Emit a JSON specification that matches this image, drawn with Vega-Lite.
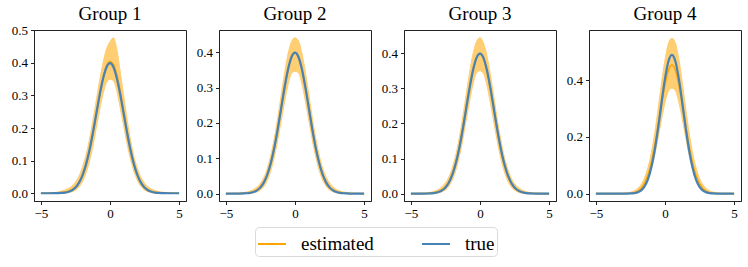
{
  "$schema": "https://vega.github.io/schema/vega-lite/v6.json",
  "padding": {"left": 10, "top": 4, "right": 8, "bottom": 2},
  "spacing": 8,
  "background": "white",
  "datasets": {
    "g1": [
      {"x": -5, "t": 0, "e": 0, "lo": 0, "hi": 0.0002},
      {"x": -4.75, "t": 0, "e": 0.0001, "lo": 0, "hi": 0.0004},
      {"x": -4.5, "t": 0, "e": 0.0002, "lo": 0, "hi": 0.0008},
      {"x": -4.25, "t": 0, "e": 0.0004, "lo": 0, "hi": 0.0014},
      {"x": -4, "t": 0.0001, "e": 0.0007, "lo": 0, "hi": 0.0024},
      {"x": -3.75, "t": 0.0004, "e": 0.0012, "lo": 0.0001, "hi": 0.004},
      {"x": -3.5, "t": 0.0009, "e": 0.002, "lo": 0.0003, "hi": 0.0065},
      {"x": -3.25, "t": 0.002, "e": 0.0035, "lo": 0.0008, "hi": 0.01},
      {"x": -3, "t": 0.0044, "e": 0.0062, "lo": 0.002, "hi": 0.015},
      {"x": -2.75, "t": 0.0091, "e": 0.0105, "lo": 0.0045, "hi": 0.0225},
      {"x": -2.5, "t": 0.0175, "e": 0.0185, "lo": 0.0095, "hi": 0.034},
      {"x": -2.25, "t": 0.0317, "e": 0.032, "lo": 0.019, "hi": 0.052},
      {"x": -2, "t": 0.054, "e": 0.053, "lo": 0.035, "hi": 0.079},
      {"x": -1.75, "t": 0.0863, "e": 0.084, "lo": 0.06, "hi": 0.115},
      {"x": -1.5, "t": 0.1295, "e": 0.126, "lo": 0.096, "hi": 0.162},
      {"x": -1.25, "t": 0.1826, "e": 0.179, "lo": 0.142, "hi": 0.22},
      {"x": -1, "t": 0.242, "e": 0.239, "lo": 0.198, "hi": 0.283},
      {"x": -0.75, "t": 0.3011, "e": 0.3, "lo": 0.256, "hi": 0.346},
      {"x": -0.5, "t": 0.3521, "e": 0.353, "lo": 0.305, "hi": 0.401},
      {"x": -0.25, "t": 0.3867, "e": 0.39, "lo": 0.34, "hi": 0.443},
      {"x": 0, "t": 0.3989, "e": 0.404, "lo": 0.35, "hi": 0.465},
      {"x": 0.25, "t": 0.3867, "e": 0.395, "lo": 0.345, "hi": 0.477},
      {"x": 0.5, "t": 0.3521, "e": 0.362, "lo": 0.313, "hi": 0.44},
      {"x": 0.75, "t": 0.3011, "e": 0.309, "lo": 0.26, "hi": 0.37},
      {"x": 1, "t": 0.242, "e": 0.248, "lo": 0.204, "hi": 0.296},
      {"x": 1.25, "t": 0.1826, "e": 0.186, "lo": 0.149, "hi": 0.223},
      {"x": 1.5, "t": 0.1295, "e": 0.131, "lo": 0.102, "hi": 0.16},
      {"x": 1.75, "t": 0.0863, "e": 0.0865, "lo": 0.065, "hi": 0.11},
      {"x": 2, "t": 0.054, "e": 0.0535, "lo": 0.038, "hi": 0.074},
      {"x": 2.25, "t": 0.0317, "e": 0.0315, "lo": 0.0205, "hi": 0.048},
      {"x": 2.5, "t": 0.0175, "e": 0.0178, "lo": 0.01, "hi": 0.031},
      {"x": 2.75, "t": 0.0091, "e": 0.0098, "lo": 0.0046, "hi": 0.02},
      {"x": 3, "t": 0.0044, "e": 0.0055, "lo": 0.002, "hi": 0.013},
      {"x": 3.25, "t": 0.002, "e": 0.0031, "lo": 0.0008, "hi": 0.0085},
      {"x": 3.5, "t": 0.0009, "e": 0.0017, "lo": 0.0003, "hi": 0.0055},
      {"x": 3.75, "t": 0.0004, "e": 0.0009, "lo": 0.0001, "hi": 0.0035},
      {"x": 4, "t": 0.0001, "e": 0.0005, "lo": 0, "hi": 0.0022},
      {"x": 4.25, "t": 0, "e": 0.0003, "lo": 0, "hi": 0.0013},
      {"x": 4.5, "t": 0, "e": 0.0001, "lo": 0, "hi": 0.0007},
      {"x": 4.75, "t": 0, "e": 0.0001, "lo": 0, "hi": 0.0004},
      {"x": 5, "t": 0, "e": 0, "lo": 0, "hi": 0.0002}
    ],
    "g2": [
      {"x": -5, "t": 0, "e": 0, "lo": 0, "hi": 0.0002},
      {"x": -4.75, "t": 0, "e": 0.0001, "lo": 0, "hi": 0.0003},
      {"x": -4.5, "t": 0, "e": 0.0001, "lo": 0, "hi": 0.0005},
      {"x": -4.25, "t": 0, "e": 0.0002, "lo": 0, "hi": 0.0009},
      {"x": -4, "t": 0.0001, "e": 0.0004, "lo": 0, "hi": 0.0015},
      {"x": -3.75, "t": 0.0004, "e": 0.0007, "lo": 0.0001, "hi": 0.0025},
      {"x": -3.5, "t": 0.0009, "e": 0.0013, "lo": 0.0003, "hi": 0.0042},
      {"x": -3.25, "t": 0.002, "e": 0.0026, "lo": 0.0008, "hi": 0.007},
      {"x": -3, "t": 0.0044, "e": 0.0052, "lo": 0.002, "hi": 0.0115},
      {"x": -2.75, "t": 0.0091, "e": 0.0098, "lo": 0.0048, "hi": 0.0185},
      {"x": -2.5, "t": 0.0175, "e": 0.018, "lo": 0.01, "hi": 0.0295},
      {"x": -2.25, "t": 0.0317, "e": 0.032, "lo": 0.02, "hi": 0.046},
      {"x": -2, "t": 0.054, "e": 0.054, "lo": 0.038, "hi": 0.072},
      {"x": -1.75, "t": 0.0863, "e": 0.086, "lo": 0.065, "hi": 0.108},
      {"x": -1.5, "t": 0.1295, "e": 0.129, "lo": 0.103, "hi": 0.156},
      {"x": -1.25, "t": 0.1826, "e": 0.182, "lo": 0.151, "hi": 0.214},
      {"x": -1, "t": 0.242, "e": 0.242, "lo": 0.206, "hi": 0.279},
      {"x": -0.75, "t": 0.3011, "e": 0.301, "lo": 0.261, "hi": 0.342},
      {"x": -0.5, "t": 0.3521, "e": 0.352, "lo": 0.309, "hi": 0.396},
      {"x": -0.25, "t": 0.3867, "e": 0.386, "lo": 0.34, "hi": 0.43},
      {"x": 0, "t": 0.3989, "e": 0.398, "lo": 0.346, "hi": 0.441},
      {"x": 0.25, "t": 0.3867, "e": 0.387, "lo": 0.342, "hi": 0.432},
      {"x": 0.5, "t": 0.3521, "e": 0.353, "lo": 0.311, "hi": 0.397},
      {"x": 0.75, "t": 0.3011, "e": 0.302, "lo": 0.262, "hi": 0.343},
      {"x": 1, "t": 0.242, "e": 0.243, "lo": 0.207, "hi": 0.28},
      {"x": 1.25, "t": 0.1826, "e": 0.183, "lo": 0.152, "hi": 0.215},
      {"x": 1.5, "t": 0.1295, "e": 0.13, "lo": 0.104, "hi": 0.157},
      {"x": 1.75, "t": 0.0863, "e": 0.087, "lo": 0.066, "hi": 0.109},
      {"x": 2, "t": 0.054, "e": 0.055, "lo": 0.0385, "hi": 0.073},
      {"x": 2.25, "t": 0.0317, "e": 0.0325, "lo": 0.0205, "hi": 0.047},
      {"x": 2.5, "t": 0.0175, "e": 0.0182, "lo": 0.0102, "hi": 0.03},
      {"x": 2.75, "t": 0.0091, "e": 0.0099, "lo": 0.0049, "hi": 0.019},
      {"x": 3, "t": 0.0044, "e": 0.0053, "lo": 0.0021, "hi": 0.0118},
      {"x": 3.25, "t": 0.002, "e": 0.0027, "lo": 0.0008, "hi": 0.0072},
      {"x": 3.5, "t": 0.0009, "e": 0.0013, "lo": 0.0003, "hi": 0.0043},
      {"x": 3.75, "t": 0.0004, "e": 0.0007, "lo": 0.0001, "hi": 0.0026},
      {"x": 4, "t": 0.0001, "e": 0.0004, "lo": 0, "hi": 0.0015},
      {"x": 4.25, "t": 0, "e": 0.0002, "lo": 0, "hi": 0.0009},
      {"x": 4.5, "t": 0, "e": 0.0001, "lo": 0, "hi": 0.0005},
      {"x": 4.75, "t": 0, "e": 0.0001, "lo": 0, "hi": 0.0003},
      {"x": 5, "t": 0, "e": 0, "lo": 0, "hi": 0.0002}
    ],
    "g3": [
      {"x": -5, "t": 0, "e": 0, "lo": 0, "hi": 0.0002},
      {"x": -4.75, "t": 0, "e": 0.0001, "lo": 0, "hi": 0.0003},
      {"x": -4.5, "t": 0, "e": 0.0001, "lo": 0, "hi": 0.0005},
      {"x": -4.25, "t": 0, "e": 0.0002, "lo": 0, "hi": 0.0009},
      {"x": -4, "t": 0.0001, "e": 0.0004, "lo": 0, "hi": 0.0016},
      {"x": -3.75, "t": 0.0004, "e": 0.0008, "lo": 0.0001, "hi": 0.0027},
      {"x": -3.5, "t": 0.0009, "e": 0.0015, "lo": 0.0003, "hi": 0.0045},
      {"x": -3.25, "t": 0.002, "e": 0.0029, "lo": 0.0009, "hi": 0.0075},
      {"x": -3, "t": 0.0044, "e": 0.0056, "lo": 0.0022, "hi": 0.0122},
      {"x": -2.75, "t": 0.0091, "e": 0.0103, "lo": 0.0051, "hi": 0.0195},
      {"x": -2.5, "t": 0.0175, "e": 0.0187, "lo": 0.0105, "hi": 0.0305},
      {"x": -2.25, "t": 0.0317, "e": 0.033, "lo": 0.0208, "hi": 0.0475},
      {"x": -2, "t": 0.054, "e": 0.0555, "lo": 0.0392, "hi": 0.074},
      {"x": -1.75, "t": 0.0863, "e": 0.088, "lo": 0.0665, "hi": 0.11},
      {"x": -1.5, "t": 0.1295, "e": 0.1315, "lo": 0.105, "hi": 0.1585},
      {"x": -1.25, "t": 0.1826, "e": 0.185, "lo": 0.153, "hi": 0.217},
      {"x": -1, "t": 0.242, "e": 0.245, "lo": 0.209, "hi": 0.282},
      {"x": -0.75, "t": 0.3011, "e": 0.304, "lo": 0.264, "hi": 0.345},
      {"x": -0.5, "t": 0.3521, "e": 0.355, "lo": 0.312, "hi": 0.399},
      {"x": -0.25, "t": 0.3867, "e": 0.388, "lo": 0.344, "hi": 0.433},
      {"x": 0, "t": 0.3989, "e": 0.399, "lo": 0.35, "hi": 0.444},
      {"x": 0.25, "t": 0.3867, "e": 0.385, "lo": 0.342, "hi": 0.429},
      {"x": 0.5, "t": 0.3521, "e": 0.35, "lo": 0.308, "hi": 0.393},
      {"x": 0.75, "t": 0.3011, "e": 0.299, "lo": 0.259, "hi": 0.339},
      {"x": 1, "t": 0.242, "e": 0.24, "lo": 0.204, "hi": 0.276},
      {"x": 1.25, "t": 0.1826, "e": 0.18, "lo": 0.149, "hi": 0.211},
      {"x": 1.5, "t": 0.1295, "e": 0.1275, "lo": 0.101, "hi": 0.154},
      {"x": 1.75, "t": 0.0863, "e": 0.085, "lo": 0.064, "hi": 0.106},
      {"x": 2, "t": 0.054, "e": 0.053, "lo": 0.037, "hi": 0.071},
      {"x": 2.25, "t": 0.0317, "e": 0.0312, "lo": 0.0195, "hi": 0.045},
      {"x": 2.5, "t": 0.0175, "e": 0.0175, "lo": 0.0096, "hi": 0.029},
      {"x": 2.75, "t": 0.0091, "e": 0.0094, "lo": 0.0045, "hi": 0.018},
      {"x": 3, "t": 0.0044, "e": 0.005, "lo": 0.0019, "hi": 0.0112},
      {"x": 3.25, "t": 0.002, "e": 0.0025, "lo": 0.0007, "hi": 0.0068},
      {"x": 3.5, "t": 0.0009, "e": 0.0012, "lo": 0.0002, "hi": 0.004},
      {"x": 3.75, "t": 0.0004, "e": 0.0006, "lo": 0.0001, "hi": 0.0024},
      {"x": 4, "t": 0.0001, "e": 0.0003, "lo": 0, "hi": 0.0014},
      {"x": 4.25, "t": 0, "e": 0.0002, "lo": 0, "hi": 0.0008},
      {"x": 4.5, "t": 0, "e": 0.0001, "lo": 0, "hi": 0.0005},
      {"x": 4.75, "t": 0, "e": 0, "lo": 0, "hi": 0.0003},
      {"x": 5, "t": 0, "e": 0, "lo": 0, "hi": 0.0002}
    ],
    "g4": [
      {"x": -5, "t": 0, "e": 0, "lo": 0, "hi": 0},
      {"x": -4.75, "t": 0, "e": 0, "lo": 0, "hi": 0},
      {"x": -4.5, "t": 0, "e": 0, "lo": 0, "hi": 0.0001},
      {"x": -4.25, "t": 0, "e": 0, "lo": 0, "hi": 0.0001},
      {"x": -4, "t": 0, "e": 0, "lo": 0, "hi": 0.0001},
      {"x": -3.75, "t": 0, "e": 0, "lo": 0, "hi": 0.0002},
      {"x": -3.5, "t": 0, "e": 0, "lo": 0, "hi": 0.0003},
      {"x": -3.25, "t": 0, "e": 0.0001, "lo": 0, "hi": 0.0006},
      {"x": -3, "t": 0.0001, "e": 0.0002, "lo": 0, "hi": 0.0012},
      {"x": -2.75, "t": 0.0002, "e": 0.0005, "lo": 0.0001, "hi": 0.0025},
      {"x": -2.5, "t": 0.0006, "e": 0.0014, "lo": 0.0004, "hi": 0.005},
      {"x": -2.25, "t": 0.0016, "e": 0.0034, "lo": 0.0013, "hi": 0.0092},
      {"x": -2, "t": 0.0044, "e": 0.008, "lo": 0.004, "hi": 0.017},
      {"x": -1.75, "t": 0.0108, "e": 0.0172, "lo": 0.01, "hi": 0.03},
      {"x": -1.5, "t": 0.0241, "e": 0.0343, "lo": 0.023, "hi": 0.053},
      {"x": -1.25, "t": 0.0488, "e": 0.0628, "lo": 0.046, "hi": 0.089},
      {"x": -1, "t": 0.09, "e": 0.106, "lo": 0.083, "hi": 0.141},
      {"x": -0.75, "t": 0.151, "e": 0.1653, "lo": 0.134, "hi": 0.212},
      {"x": -0.5, "t": 0.2306, "e": 0.2377, "lo": 0.196, "hi": 0.298},
      {"x": -0.25, "t": 0.3205, "e": 0.3153, "lo": 0.262, "hi": 0.39},
      {"x": 0, "t": 0.4056, "e": 0.3858, "lo": 0.322, "hi": 0.472},
      {"x": 0.25, "t": 0.467, "e": 0.4355, "lo": 0.362, "hi": 0.53},
      {"x": 0.5, "t": 0.4895, "e": 0.4534, "lo": 0.372, "hi": 0.548},
      {"x": 0.75, "t": 0.467, "e": 0.4355, "lo": 0.363, "hi": 0.532},
      {"x": 1, "t": 0.4056, "e": 0.3858, "lo": 0.323, "hi": 0.474},
      {"x": 1.25, "t": 0.3205, "e": 0.3153, "lo": 0.263, "hi": 0.392},
      {"x": 1.5, "t": 0.2306, "e": 0.2377, "lo": 0.197, "hi": 0.299},
      {"x": 1.75, "t": 0.151, "e": 0.1653, "lo": 0.135, "hi": 0.213},
      {"x": 2, "t": 0.09, "e": 0.106, "lo": 0.084, "hi": 0.142},
      {"x": 2.25, "t": 0.0488, "e": 0.0628, "lo": 0.0465, "hi": 0.09},
      {"x": 2.5, "t": 0.0241, "e": 0.0343, "lo": 0.0232, "hi": 0.0535},
      {"x": 2.75, "t": 0.0108, "e": 0.0172, "lo": 0.0102, "hi": 0.0305},
      {"x": 3, "t": 0.0044, "e": 0.008, "lo": 0.0041, "hi": 0.0172},
      {"x": 3.25, "t": 0.0016, "e": 0.0034, "lo": 0.0013, "hi": 0.0094},
      {"x": 3.5, "t": 0.0006, "e": 0.0014, "lo": 0.0004, "hi": 0.0051},
      {"x": 3.75, "t": 0.0002, "e": 0.0005, "lo": 0.0001, "hi": 0.0026},
      {"x": 4, "t": 0.0001, "e": 0.0002, "lo": 0, "hi": 0.0012},
      {"x": 4.25, "t": 0, "e": 0.0001, "lo": 0, "hi": 0.0006},
      {"x": 4.5, "t": 0, "e": 0, "lo": 0, "hi": 0.0003},
      {"x": 4.75, "t": 0, "e": 0, "lo": 0, "hi": 0.0001},
      {"x": 5, "t": 0, "e": 0, "lo": 0, "hi": 0.0001}
    ]
  },
  "hconcat": [
    {
      "title": {"text": "Group 1", "offset": 0},
      "width": 152, "height": 171,
      "data": {"name": "g1"},
      "encoding": {"x": {"field": "x", "type": "quantitative", "scale": {"domain": [-5.5, 5.5], "nice": false, "zero": false}, "axis": {"values": [-5, 0, 5], "format": "d"}}},
      "layer": [
        {"mark": {"type": "area", "color": "orange", "opacity": 0.55, "stroke": "orange", "strokeWidth": 1, "interpolate": "monotone"},
         "encoding": {"y": {"field": "lo", "type": "quantitative", "scale": {"domain": [-0.0238, 0.5008], "nice": false, "zero": false}, "axis": {"values": [0, 0.1, 0.2, 0.3, 0.4, 0.5], "tickCount": 6, "format": ".1f", "labelOverlap": false}}, "y2": {"field": "hi"}}},
        {"mark": {"type": "line", "strokeWidth": 1.6, "interpolate": "monotone"},
         "encoding": {"y": {"field": "e", "type": "quantitative", "axis": {"values": [0, 0.1, 0.2, 0.3, 0.4, 0.5], "tickCount": 6, "format": ".1f", "labelOverlap": false}}, "color": {"datum": "estimated", "type": "nominal", "scale": {"domain": ["estimated", "true"], "range": ["#FFA500", "#4682B4"]}}}},
        {"mark": {"type": "line", "strokeWidth": 2.2, "interpolate": "monotone"},
         "encoding": {"y": {"field": "t", "type": "quantitative", "axis": {"values": [0, 0.1, 0.2, 0.3, 0.4, 0.5], "tickCount": 6, "format": ".1f", "labelOverlap": false}}, "color": {"datum": "true", "type": "nominal"}}}
      ]
    },
    {
      "title": "Group 2",
      "width": 152, "height": 171,
      "data": {"name": "g2"},
      "encoding": {"x": {"field": "x", "type": "quantitative", "scale": {"domain": [-5.5, 5.5], "nice": false, "zero": false}, "axis": {"values": [-5, 0, 5], "format": "d"}}},
      "layer": [
        {"mark": {"type": "area", "color": "orange", "opacity": 0.55, "stroke": "orange", "strokeWidth": 1, "interpolate": "monotone"},
         "encoding": {"y": {"field": "lo", "type": "quantitative", "scale": {"domain": [-0.021, 0.463], "nice": false, "zero": false}, "axis": {"values": [0, 0.1, 0.2, 0.3, 0.4], "format": ".1f"}}, "y2": {"field": "hi"}}},
        {"mark": {"type": "line", "strokeWidth": 1.6, "interpolate": "monotone"},
         "encoding": {"y": {"field": "e", "type": "quantitative", "axis": {"values": [0, 0.1, 0.2, 0.3, 0.4], "format": ".1f"}}, "color": {"datum": "estimated", "type": "nominal", "scale": {"domain": ["estimated", "true"], "range": ["#FFA500", "#4682B4"]}}}},
        {"mark": {"type": "line", "strokeWidth": 2.2, "interpolate": "monotone"},
         "encoding": {"y": {"field": "t", "type": "quantitative", "axis": {"values": [0, 0.1, 0.2, 0.3, 0.4], "format": ".1f"}}, "color": {"datum": "true", "type": "nominal"}}}
      ]
    },
    {
      "title": "Group 3",
      "width": 152, "height": 171,
      "data": {"name": "g3"},
      "encoding": {"x": {"field": "x", "type": "quantitative", "scale": {"domain": [-5.5, 5.5], "nice": false, "zero": false}, "axis": {"values": [-5, 0, 5], "format": "d"}}},
      "layer": [
        {"mark": {"type": "area", "color": "orange", "opacity": 0.55, "stroke": "orange", "strokeWidth": 1, "interpolate": "monotone"},
         "encoding": {"y": {"field": "lo", "type": "quantitative", "scale": {"domain": [-0.021, 0.466], "nice": false, "zero": false}, "axis": {"values": [0, 0.1, 0.2, 0.3, 0.4], "format": ".1f"}}, "y2": {"field": "hi"}}},
        {"mark": {"type": "line", "strokeWidth": 1.6, "interpolate": "monotone"},
         "encoding": {"y": {"field": "e", "type": "quantitative", "axis": {"values": [0, 0.1, 0.2, 0.3, 0.4], "format": ".1f"}}, "color": {"datum": "estimated", "type": "nominal", "scale": {"domain": ["estimated", "true"], "range": ["#FFA500", "#4682B4"]}}}},
        {"mark": {"type": "line", "strokeWidth": 2.2, "interpolate": "monotone"},
         "encoding": {"y": {"field": "t", "type": "quantitative", "axis": {"values": [0, 0.1, 0.2, 0.3, 0.4], "format": ".1f"}}, "color": {"datum": "true", "type": "nominal"}}}
      ]
    },
    {
      "title": "Group 4",
      "width": 152, "height": 171,
      "data": {"name": "g4"},
      "encoding": {"x": {"field": "x", "type": "quantitative", "scale": {"domain": [-5.5, 5.5], "nice": false, "zero": false}, "axis": {"values": [-5, 0, 5], "format": "d"}}},
      "layer": [
        {"mark": {"type": "area", "color": "orange", "opacity": 0.55, "stroke": "orange", "strokeWidth": 1, "interpolate": "monotone"},
         "encoding": {"y": {"field": "lo", "type": "quantitative", "scale": {"domain": [-0.026, 0.577], "nice": false, "zero": false}, "axis": {"values": [0, 0.2, 0.4], "format": ".1f"}}, "y2": {"field": "hi"}}},
        {"mark": {"type": "line", "strokeWidth": 1.6, "interpolate": "monotone"},
         "encoding": {"y": {"field": "e", "type": "quantitative", "axis": {"values": [0, 0.2, 0.4], "format": ".1f"}}, "color": {"datum": "estimated", "type": "nominal", "scale": {"domain": ["estimated", "true"], "range": ["#FFA500", "#4682B4"]}}}},
        {"mark": {"type": "line", "strokeWidth": 2.2, "interpolate": "monotone"},
         "encoding": {"y": {"field": "t", "type": "quantitative", "axis": {"values": [0, 0.2, 0.4], "format": ".1f"}}, "color": {"datum": "true", "type": "nominal"}}}
      ]
    }
  ],
  "resolve": {"scale": {"x": "independent", "y": "independent", "color": "shared"}, "legend": {"color": "shared"}},
  "config": {
    "font": "Liberation Serif",
    "view": {"stroke": "#222", "strokeWidth": 1},
    "axis": {"title": null, "grid": false, "labelOverlap": false, "labelFont": "Liberation Serif", "labelFontSize": 13, "labelColor": "#000", "domainColor": "#222", "domainWidth": 1, "tickColor": "#222", "tickSize": 3.5, "tickWidth": 1, "labelPadding": 3},
    "title": {"font": "Liberation Serif", "fontSize": 19, "fontWeight": "normal", "color": "#000", "offset": 6, "frame": "group"},
    "legend": {
      "orient": "bottom", "direction": "horizontal", "title": null,
      "layout": {"bottom": {"anchor": "middle"}},
      "labelFont": "Liberation Serif", "labelFontSize": 19, "labelColor": "#000",
      "symbolType": "stroke", "symbolSize": 784, "symbolStrokeWidth": 2,
      "labelOffset": 14, "columnPadding": 44, "padding": 2, "offset": 6,
      "strokeColor": "#d9d9d9", "cornerRadius": 4
    }
  }
}
